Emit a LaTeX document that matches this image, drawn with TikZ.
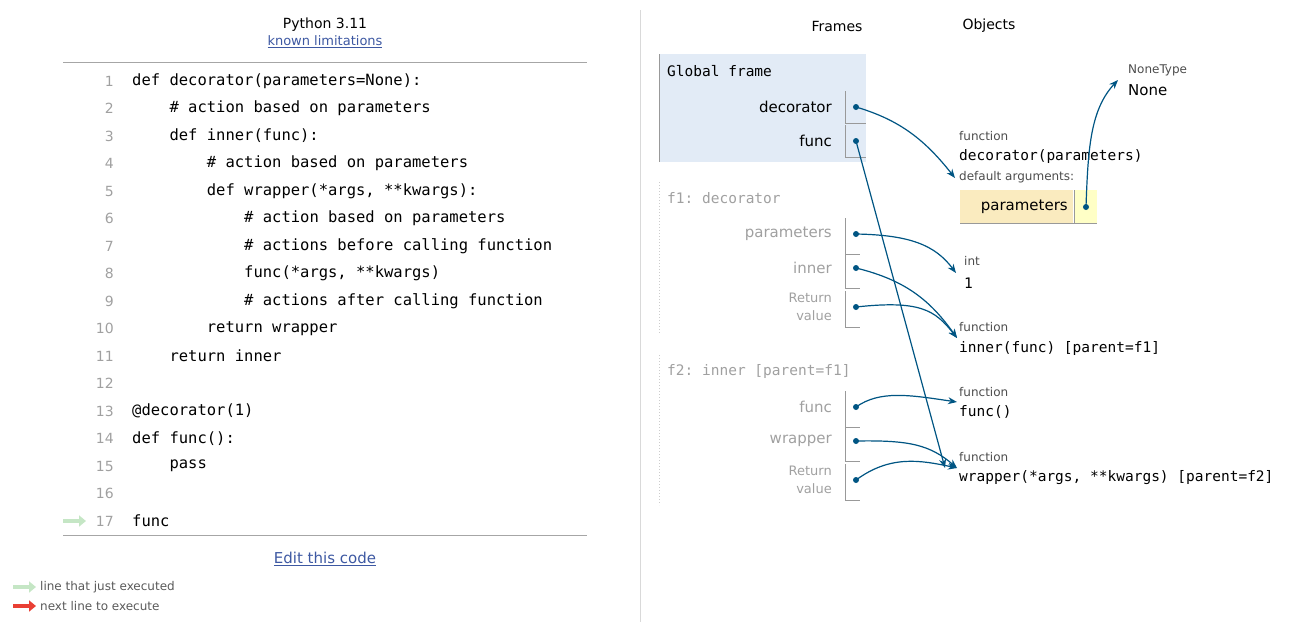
\documentclass[tikz,border=0pt]{standalone}
\usepackage{fontspec}
\setmainfont{DejaVu Sans}
\setmonofont{DejaVu Sans Mono}
\usetikzlibrary{arrows.meta, positioning}
\definecolor{ptr}{HTML}{005583}
\definecolor{frameblue}{HTML}{E2EBF6}
\definecolor{lgray}{HTML}{A0A0A0}
\definecolor{linkblue}{HTML}{3D58A2}
\definecolor{wheat}{HTML}{FAEBBF}
\definecolor{lyellow}{HTML}{FFFFC6}
\definecolor{greenarr}{HTML}{C5E6C5}
\definecolor{redarr}{HTML}{E93F34}
\tikzset{
  code/.style={anchor=west, inner sep=0pt, font=\fontsize{15.5}{16}\ttfamily},
  lnum/.style={anchor=east, inner sep=0pt, text=lgray, font=\fontsize{14}{16}\selectfont},
  var/.style={anchor=east, inner sep=0pt, font=\fontsize{15}{16}\selectfont},
  gvar/.style={var, text=lgray},
  small/.style={anchor=west, inner sep=0pt, text=black!70, font=\fontsize{12}{13}\selectfont},
  mono/.style={anchor=west, inner sep=0pt, font=\fontsize{14.5}{16}\ttfamily},
  dot/.style={circle, fill=ptr, inner sep=0pt, minimum size=6pt},
  ptrarrow/.style={draw=ptr, line width=1.2pt, -{Stealth[length=9pt,width=7pt]}},
  slot/.style={draw=black!40, line width=0.8pt},
  legarrow/.style={line width=3.5pt, -{Triangle[length=7pt,width=11pt]}},
}
\begin{document}
\begin{tikzpicture}[x=1pt,y=-1pt]
\useasboundingbox (0,0) rectangle (1290,622);

% code panel
\node[font=\fontsize{14}{16}\selectfont] (title) at (325,25) {Python 3.11};
\node[text=linkblue, font=\fontsize{13}{14}\selectfont] (limits) at (325,42) {\underline{known limitations}};
\draw[black!35] (63,62) -- (587,62);
\foreach \n/\txt in {
  1/{def decorator(parameters=None):},
  2/{\ \ \ \ \# action based on parameters},
  3/{\ \ \ \ def inner(func):},
  4/{\ \ \ \ \ \ \ \ \# action based on parameters},
  5/{\ \ \ \ \ \ \ \ def wrapper(*args, **kwargs):},
  6/{\ \ \ \ \ \ \ \ \ \ \ \ \# action based on parameters},
  7/{\ \ \ \ \ \ \ \ \ \ \ \ \# actions before calling function},
  8/{\ \ \ \ \ \ \ \ \ \ \ \ func(*args, **kwargs)},
  9/{\ \ \ \ \ \ \ \ \ \ \ \ \# actions after calling function},
  10/{\ \ \ \ \ \ \ \ return wrapper},
  11/{\ \ \ \ return inner},
  12/{},
  13/{@decorator(1)},
  14/{def func():},
  15/{\ \ \ \ pass},
  16/{},
  17/{func}
} {
  \node[lnum] (n\n) at (114,81+27.5*\n-27.5) {\n};
  \node[code] (c\n) at (132,81+27.5*\n-27.5) {\txt};
}
\draw[greenarr, legarrow] (63,521) -- (86,521);
\draw[black!35] (63,535) -- (587,535);
\node[text=linkblue, font=\fontsize{15}{16}\selectfont] (edit) at (325,559) {\underline{Edit this code}};
\draw[greenarr, legarrow] (13,587) -- (36,587);
\node[small, text=black!65] (leg1) at (40,587) {line that just executed};
\draw[redarr, legarrow] (13,606) -- (36,606);
\node[small, text=black!65] (leg2) at (40,606) {next line to execute};

\draw[black!15] (640,10) -- (640,622);

% frames
\node[font=\fontsize{14}{16}\selectfont] (frames) at (837,26) {Frames};
\node[font=\fontsize{14}{16}\selectfont] (objects) at (989,26) {Objects};

\fill[frameblue] (659,54) rectangle (866,162);
\draw[black!40, line width=1pt] (659,54) -- (659,162);
\node[mono] (gtitle) at (667,71) {Global frame};
\node[var] (vdec) at (832,107) {decorator};
\node[var] (vfunc) at (832,141) {func};
\foreach \y/\nm in {107/gdec, 141/gfunc} {
  \draw[slot] (845,\y-16) -- (845,\y+16) -- (866,\y+16);
  \node[dot] (\nm) at (856,\y) {};
}

\draw[black!20, dotted, line width=1pt] (659,182) -- (659,333);
\node[mono, text=lgray] (f1title) at (667,198) {f1: decorator};
\node[gvar] (vpar) at (832,234) {parameters};
\node[gvar] (vinner) at (832,268) {inner};
\node[gvar, align=right, font=\fontsize{13}{18}\selectfont] (vret1) at (832,307) {Return\\value};
\foreach \y/\nm in {234/fpar, 268/finner, 307/fret1} {
  \draw[slot] (845,\y-16) -- (845,\y+20) -- (860,\y+20);
  \node[dot] (\nm) at (856,\y) {};
}

\draw[black!20, dotted, line width=1pt] (659,355) -- (659,505);
\node[mono, text=lgray] (f2title) at (667,371) {f2: inner [parent=f1]};
\node[gvar] (vfunc2) at (832,407) {func};
\node[gvar] (vwrap) at (832,441) {wrapper};
\node[gvar, align=right, font=\fontsize{13}{18}\selectfont] (vret2) at (832,480) {Return\\value};
\foreach \y/\nm in {407/ffunc, 441/fwrap, 480/fret2} {
  \draw[slot] (845,\y-16) -- (845,\y+20) -- (860,\y+20);
  \node[dot] (\nm) at (856,\y) {};
}

% objects
\node[small] (nt) at (1128,70) {NoneType};
\node[anchor=west, inner sep=0pt, font=\fontsize{15}{16}\selectfont] (none) at (1128,90) {None};
\node[small] (fl1) at (959,136) {function};
\node[mono] (fdec) at (959,156) {decorator(parameters)};
\node[small] (defs) at (959,177) {default arguments:};
\fill[wheat] (960,190) rectangle (1073,223);
\fill[lyellow] (1075,190) rectangle (1097,223);
\draw[slot] (960,223) -- (1097,223);
\draw[slot] (1074,190) -- (1074,223);
\node[anchor=east, inner sep=0pt, font=\fontsize{15}{16}\selectfont] (dpar) at (1068,207) {parameters};
\node[dot] (odpar) at (1086,207) {};
\node[small] (il) at (964,261) {int};
\node[mono] (one) at (964,283) {1};
\node[small] (fl2) at (959,327) {function};
\node[mono] (finn) at (959,348) {inner(func) [parent=f1]};
\node[small] (fl3) at (959,392) {function};
\node[mono] (ffn) at (959,412) {func()};
\node[small] (fl4) at (959,457) {function};
\node[mono] (fwr) at (959,478) {wrapper(*args, **kwargs) [parent=f2]};

\coordinate (tdec) at (955,178);
\coordinate (tnone) at (1118,80);
\coordinate (tint) at (956,273);
\coordinate (tinn) at (957,338);
\coordinate (tfn) at (957,402);
\coordinate (twr) at (957,468);

% pointers
\draw[ptrarrow] (gdec.center) .. controls (900,120) and (925,140) .. (tdec);
\draw[ptrarrow] (gfunc.center) -- (945,468);
\draw[ptrarrow] (odpar.center) .. controls (1088,150) and (1090,110) .. (tnone);
\draw[ptrarrow] (fpar.center) .. controls (910,235) and (935,245) .. (tint);
\draw[ptrarrow] (finner.center) .. controls (905,280) and (930,300) .. (tinn);
\draw[ptrarrow] (fret1.center) .. controls (920,300) and (935,310) .. (tinn);
\draw[ptrarrow] (ffunc.center) .. controls (880,390) and (910,395) .. (tfn);
\draw[ptrarrow] (fwrap.center) .. controls (910,440) and (930,445) .. (twr);
\draw[ptrarrow] (fret2.center) .. controls (890,455) and (920,460) .. (twr);
\end{tikzpicture}
\end{document}
